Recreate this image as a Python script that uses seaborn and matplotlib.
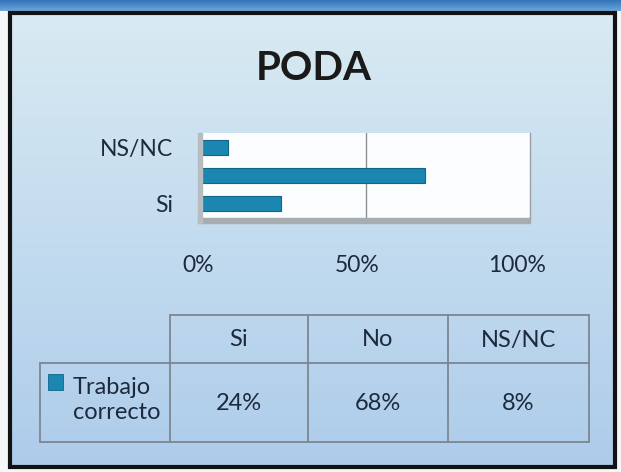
import numpy as np
import pandas as pd
import matplotlib
matplotlib.use('Agg')
import matplotlib.pyplot as plt
import seaborn as sns
from matplotlib.patches import Rectangle
from matplotlib.transforms import ScaledTranslation

# datos
titulo = 'PODA'
serie = 'Trabajo correcto'
categorias = ['Si', 'No', 'NS/NC']
valores = [24, 68, 8]
ticks_x = [0, 50, 100]
orden_barras = ['NS/NC', 'No', 'Si']

sns.set_theme(style='white')
plt.rcParams['font.family'] = ['Lato', 'DejaVu Sans']

W, H = 621, 472
fig = plt.figure(figsize=(W / 100, H / 100), dpi=100)
fig.patch.set_facecolor('#f4f6f8')


def fx(x):
    return x / W


def fy(y):
    return 1 - y / H


texto = '#1c2a3c'
azul = '#1b87b1'

# fondo con degradado
bg = fig.add_axes([0, 0, 1, 1])
bg.set_axis_off()
bg.set_xlim(0, W)
bg.set_ylim(H, 0)
g = np.linspace(0, 1, 256)[:, None, None]
arriba = np.array([0.85, 0.92, 0.95])
abajo = np.array([0.68, 0.80, 0.92])
bg.imshow(arriba * (1 - g) + abajo * g, extent=[10, 615, 467, 13], aspect='auto')
banda = np.array([0.20, 0.45, 0.72]) * (1 - g) + np.array([0.42, 0.65, 0.86]) * g
bg.imshow(banda, extent=[0, W, 11, 0], aspect='auto')
bg.add_patch(Rectangle((10, 13), 605, 454, fill=False, lw=3, ec='#121212'))

# titulo
fig.text(fx(314), fy(68), titulo, ha='center', va='center', fontsize=29,
         fontweight='bold', color='#1a1a1a')

# barras
ax = fig.add_axes([fx(202), fy(218), (530 - 202) / W, (218 - 133) / H])
df = pd.DataFrame({'categoria': categorias, 'valor': valores})
sns.barplot(data=df, x='valor', y='categoria', order=orden_barras, orient='h',
            color=azul, width=0.54, edgecolor='#0e6688', linewidth=0.8,
            saturation=1, ax=ax)
ax.set_facecolor('#fbfdfe')
ax.set_xlim(0, 100)
ax.set_xticks(ticks_x)
ax.set_xticklabels([f'{t}%' for t in ticks_x])
ax.set_yticks(range(len(orden_barras)))
ax.set_yticklabels([c if c != 'No' else '' for c in orden_barras])
ax.tick_params(axis='x', pad=27, labelsize=16.5, colors=texto, length=0)
ax.tick_params(axis='y', pad=21, labelsize=16.5, colors=texto, length=0)
# efecto de perspectiva en las etiquetas del eje x
for lbl, t in zip(ax.get_xticklabels(), ticks_x):
    lbl.set_transform(lbl.get_transform() +
                      ScaledTranslation(-(4 + 0.09 * t) / 100, 0, fig.dpi_scale_trans))
ax.set_xlabel('')
ax.set_ylabel('')
ax.axvline(50, color='#8c9196', lw=1, zorder=0)
for s in ['top', 'left', 'bottom']:
    ax.spines[s].set_visible(False)
ax.spines['right'].set_color('#9a9fa4')
ax.spines['right'].set_linewidth(1)
# suelo y pared
ax.add_patch(Rectangle((-0.012, -0.06), 1.012, 0.06, transform=ax.transAxes,
                       color='#a7acb1', clip_on=False))
ax.add_patch(Rectangle((-0.012, -0.06), 0.012, 1.06, transform=ax.transAxes,
                       color='#b7bcc1', clip_on=False))

# tabla de datos
tab = fig.add_axes([fx(40), fy(442), 549 / W, 127 / H])
tab.set_axis_off()
tab.set_xlim(40, 589)
tab.set_ylim(442, 315)
cols = [40, 170, 308, 448, 589]
filas = [315, 363, 442]
lc = '#7c8791'
tab.plot([cols[1], cols[-1]], [filas[0]] * 2, color=lc, lw=1.3, clip_on=False)
for y in filas[1:]:
    tab.plot([cols[0], cols[-1]], [y, y], color=lc, lw=1.3, clip_on=False)
tab.plot([cols[0]] * 2, [filas[1], filas[2]], color=lc, lw=1.3, clip_on=False)
for x in cols[1:]:
    tab.plot([x, x], [filas[0], filas[2]], color=lc, lw=1.3, clip_on=False)

for i, (c, v) in enumerate(zip(categorias, valores)):
    xc = (cols[i + 1] + cols[i + 2]) / 2
    tab.text(xc, 340, c, ha='center', va='center', fontsize=17, color=texto)
    tab.text(xc, 404, f'{v}%', ha='center', va='center', fontsize=17, color=texto)

tab.add_patch(Rectangle((48, 374), 15, 16, color=azul, ec='#0e6688', lw=0.6))
tab.text(73, 400, serie.replace(' ', '\n'), ha='left', va='center',
         fontsize=17, color=texto, linespacing=1.25)

fig.savefig('out.png', dpi=100)
